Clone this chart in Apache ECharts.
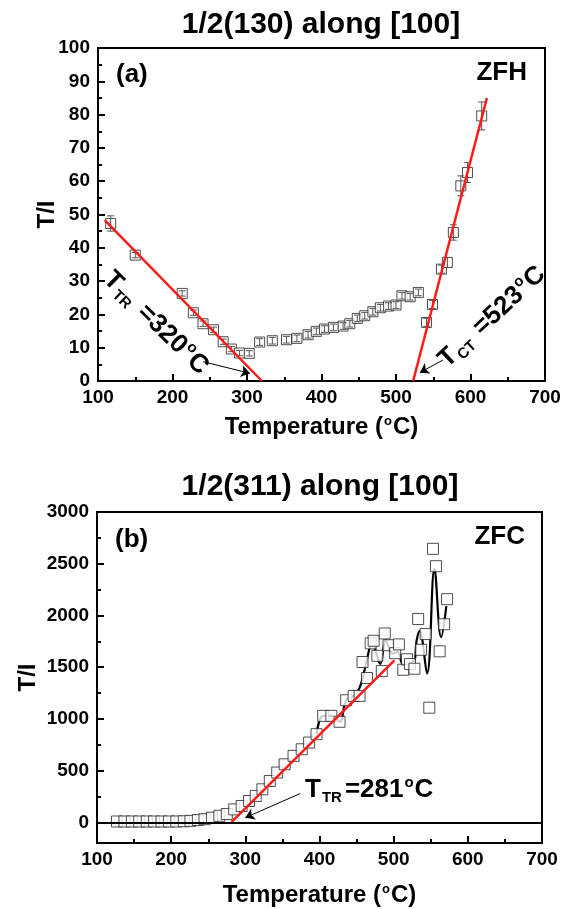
<!DOCTYPE html>
<html>
<head>
<meta charset="utf-8">
<script src="https://cdn.jsdelivr.net/npm/echarts@6/dist/echarts.min.js"></script>
<style>
  html, body { margin: 0; padding: 0; background: #fff; }
  #chart { width: 567px; height: 909px; }
</style>
</head>
<body>
<div id="chart"></div>
<script>
const FONT = '"Liberation Sans", Arial, Helvetica, sans-serif';

// ---- panel (a): 1/2(130) along [100], ZFH ----
const tempA  = [117, 150, 213, 228, 241, 255, 268, 279, 290, 303, 317, 334, 353, 367, 382, 393, 404, 416, 429, 438, 448, 458, 469, 479, 490, 500, 508, 519, 530, 541, 549, 561, 569, 577, 587, 596, 615];
const ratioA = [47.3, 37.8, 26.3, 20.5, 17.2, 15.4, 11.8, 9.6, 8.4, 8.3, 11.7, 12.1, 12.4, 12.8, 13.9, 14.9, 15.6, 16.1, 16.5, 17.2, 18.8, 19.6, 20.8, 22.0, 22.5, 22.8, 25.6, 25.3, 26.6, 17.6, 23.0, 33.6, 35.6, 44.6, 58.6, 62.6, 79.6];
const errA   = [2.3, 0.8, 0.8, 0.8, 0.8, 0.8, 0.8, 0.8, 0.8, 0.8, 1.0, 1.0, 1.0, 1.0, 1.0, 1.0, 1.0, 1.0, 1.0, 1.0, 1.0, 1.0, 1.0, 1.0, 1.0, 1.0, 1.0, 1.0, 1.0, 1.2, 1.2, 1.2, 1.5, 2.3, 3.0, 3.0, 4.2];
// linear fits crossing zero at T_TR and T_CT
const fitTrTempA  = [109, 320];
const fitTrRatioA = [48.3, 0];
const fitCtTempA  = [523, 622];
const fitCtRatioA = [0, 85];
const xTicks  = [100, 200, 300, 400, 500, 600, 700];
const yTicksA = [0, 10, 20, 30, 40, 50, 60, 70, 80, 90, 100];

// ---- panel (b): 1/2(311) along [100], ZFC ----
const tempB  = [127, 137, 147, 157, 167, 177, 187, 197, 207, 217, 226, 236, 245, 255, 265, 275, 285, 295, 305, 314, 323, 333, 343, 353, 365, 376, 386, 396, 405, 416, 427, 436, 446, 454, 458, 464, 469, 473, 478, 484, 488, 493, 502, 507, 513, 518, 522, 528, 533, 537, 543, 548, 553, 557, 562, 568, 572];
const ratioB = [8, 8, 8, 8, 8, 8, 8, 8, 8, 10, 14, 22, 30, 45, 63, 80, 125, 158, 206, 255, 319, 400, 481, 561, 642, 706, 771, 852, 1029, 1029, 972, 1180, 1222, 1222, 1550, 1395, 1730, 1755, 1610, 1462, 1826, 1712, 1635, 1720, 1475, 1576, 1530, 1485, 1966, 1668, 1820, 1108, 2644, 2476, 1653, 1915, 2157];
// smoothed guide curve through the upper part of the data
const curveTempB  = [396, 405, 416, 427, 436, 446, 454, 461, 468, 471, 476, 482, 489, 493, 498, 505, 513, 520, 527, 531, 535, 545, 555, 564, 571];
const curveRatioB = [852, 1029, 1029, 972, 1180, 1222, 1300, 1480, 1700, 1760, 1650, 1530, 1760, 1700, 1630, 1650, 1520, 1560, 1560, 1760, 1850, 1440, 2450, 1790, 2090];
const fitTrTempB  = [281, 501];
const fitTrRatioB = [0, 1565];
const yTicksB      = [0, 500, 1000, 1500, 2000, 2500, 3000];
const yMinorTicksB = [250, 750, 1250, 1750, 2250, 2750];
const yMinB = -200;

const zip = (a, b) => a.map((v, i) => [v, b[i]]);

const black = '#000';
const plain = (v) => String(v);
const tickLabel = { fontFamily: FONT, fontWeight: 'bold', fontSize: 19, color: black, formatter: plain };
const supRich = { s: { fontFamily: FONT, fontWeight: 'bold', fontSize: 13, color: black, verticalAlign: 'top', padding: [0, 1, 0, 1] } };

function xAxis(gridIndex, nameGap) {
  return {
    gridIndex, type: 'value',
    min: xTicks[0], max: xTicks[xTicks.length - 1], interval: xTicks[1] - xTicks[0],
    axisLine: { onZero: false, lineStyle: { color: black, width: 2 } },
    axisTick: { inside: true, length: 7, lineStyle: { color: black, width: 2 } },
    minorTick: { show: true, splitNumber: 2, length: 4, lineStyle: { color: black, width: 2 } },
    splitLine: { show: false }, minorSplitLine: { show: false },
    axisLabel: Object.assign({ margin: 7 }, tickLabel),
    name: 'Temperature ({s|o}C)', nameLocation: 'middle', nameGap, nameMoveOverlap: false,
    nameTextStyle: { fontFamily: FONT, fontWeight: 'bold', fontSize: 24, color: black, rich: supRich }
  };
}

const yNameStyle = { fontFamily: FONT, fontWeight: 'bold', fontSize: 24, color: black };

const option = {
  animation: false,
  backgroundColor: '#fff',
  grid: [
    { left: 98, top: 48, width: 447, height: 333, show: true, borderColor: black, borderWidth: 2, backgroundColor: 'transparent' },
    { left: 97, top: 512, width: 445, height: 331, show: true, borderColor: black, borderWidth: 2, backgroundColor: 'transparent' }
  ],
  xAxis: [xAxis(0, 34), xAxis(1, 40)],
  yAxis: [
    {
      gridIndex: 0, type: 'value', position: 'left',
      min: yTicksA[0], max: yTicksA[yTicksA.length - 1], interval: yTicksA[1] - yTicksA[0],
      axisLine: { show: true, lineStyle: { color: black, width: 2 } },
      axisTick: { inside: true, length: 7, lineStyle: { color: black, width: 2 } },
      minorTick: { show: true, splitNumber: 2, length: 4, lineStyle: { color: black, width: 2 } },
      splitLine: { show: false }, minorSplitLine: { show: false },
      axisLabel: Object.assign({ margin: 8 }, tickLabel),
      name: 'T/I', nameLocation: 'middle', nameRotate: 90, nameGap: 39, nameMoveOverlap: false, nameTextStyle: yNameStyle
    },
    {
      gridIndex: 1, type: 'value', position: 'left',
      min: yMinB, max: yTicksB[yTicksB.length - 1],
      axisLine: { show: true, lineStyle: { color: black, width: 2 } },
      axisTick: { inside: true, length: 7, customValues: yTicksB, lineStyle: { color: black, width: 2 } },
      splitLine: { show: false },
      axisLabel: Object.assign({ margin: 8, customValues: yTicksB }, tickLabel),
      name: 'T/I', nameLocation: 'middle', nameRotate: 90, nameGap: 57, nameMoveOverlap: false, nameTextStyle: yNameStyle
    },
    {
      // minor ticks of panel (b)
      gridIndex: 1, type: 'value', position: 'left',
      min: yMinB, max: yTicksB[yTicksB.length - 1],
      axisLine: { show: false },
      axisTick: { inside: true, length: 4, customValues: yMinorTicksB, lineStyle: { color: black, width: 2 } },
      axisLabel: { show: false },
      splitLine: { show: false }
    }
  ],
  series: [
    // panel (a)
    {
      type: 'scatter', xAxisIndex: 0, yAxisIndex: 0, z: 2,
      data: zip(tempA, ratioA),
      symbol: 'rect', symbolSize: 10,
      itemStyle: { color: '#fff', borderColor: '#222', borderWidth: 1 }
    },
    {
      type: 'custom', xAxisIndex: 0, yAxisIndex: 0, z: 3,
      data: tempA.map((t, i) => [t, ratioA[i], errA[i]]),
      encode: { x: 0, y: 1 },
      renderItem(params, api) {
        const x = api.value(0), y = api.value(1), e = api.value(2);
        const hi = api.coord([x, y + e]);
        const lo = api.coord([x, y - e]);
        const w = 3.5;
        const st = { stroke: '#555', lineWidth: 1 };
        return {
          type: 'group',
          children: [
            { type: 'line', shape: { x1: hi[0], y1: hi[1], x2: lo[0], y2: lo[1] }, style: st },
            { type: 'line', shape: { x1: hi[0] - w, y1: hi[1], x2: hi[0] + w, y2: hi[1] }, style: st },
            { type: 'line', shape: { x1: lo[0] - w, y1: lo[1], x2: lo[0] + w, y2: lo[1] }, style: st }
          ]
        };
      }
    },
    {
      type: 'line', xAxisIndex: 0, yAxisIndex: 0, z: 4,
      data: zip(fitTrTempA, fitTrRatioA), symbol: 'none',
      lineStyle: { color: '#ff1a1a', width: 2.5 },
      markLine: {
        silent: true, symbol: ['none', 'arrow'], symbolSize: 9,
        label: { show: false },
        itemStyle: { color: black },
        lineStyle: { color: black, width: 1, type: 'solid' },
        data: [
          [{ coord: [241, 5.8] }, { coord: [304, 2.3] }],
          [{ coord: [563, 6.3] }, { coord: [532, 2.5] }]
        ]
      }
    },
    {
      type: 'line', xAxisIndex: 0, yAxisIndex: 0, z: 4,
      data: zip(fitCtTempA, fitCtRatioA), symbol: 'none',
      lineStyle: { color: '#ff1a1a', width: 2.5 }
    },
    // panel (b)
    {
      type: 'line', xAxisIndex: 1, yAxisIndex: 1, z: 1,
      data: zip(curveTempB, curveRatioB), symbol: 'none', smooth: 0.4,
      lineStyle: { color: black, width: 2.2 },
      markLine: {
        silent: true, symbol: ['none', 'none'],
        label: { show: false },
        lineStyle: { color: black, width: 2, type: 'solid' },
        data: [{ yAxis: 0 }]
      }
    },
    {
      type: 'scatter', xAxisIndex: 1, yAxisIndex: 1, z: 2,
      data: zip(tempB, ratioB),
      symbol: 'rect', symbolSize: 11,
      itemStyle: { color: '#fff', borderColor: '#222', borderWidth: 1 }
    },
    {
      type: 'line', xAxisIndex: 1, yAxisIndex: 1, z: 4,
      data: zip(fitTrTempB, fitTrRatioB), symbol: 'none',
      lineStyle: { color: '#ff1a1a', width: 2.5 },
      markLine: {
        silent: true, symbol: ['none', 'arrow'], symbolSize: 9,
        label: { show: false },
        itemStyle: { color: black },
        lineStyle: { color: black, width: 1, type: 'solid' },
        data: [[{ coord: [374, 278] }, { coord: [300, 45] }]]
      }
    }
  ],
  graphic: [
    titleText('1/2(130) along [100]', 321, 25),
    titleText('1/2(311) along [100]', 320, 487),
    plainText('(a)', 116, 75, 'left'),
    plainText('ZFH', 527, 73, 'right'),
    plainText('(b)', 115, 540, 'left'),
    plainText('ZFC', 525, 537, 'right'),
    richText('{b|T}{sub|TR}{b| =320}{sup|o}{b|C}', 156, 323, -0.775, 'center'),
    richText('{b|T}{sub|CT}{b| =523}{sup|o}{b|C}', 492, 317, 0.75, 'center'),
    richText('{b|T}{sub|TR}{b|=281}{sup|o}{b|C}', 305, 790, 0, 'left')
  ]
};

function titleText(text, x, y) {
  return {
    type: 'text', x, y, z: 10,
    style: { text, fill: black, fontFamily: FONT, fontWeight: 'bold', fontSize: 30, align: 'center', verticalAlign: 'middle' }
  };
}
function plainText(text, x, y, align) {
  return {
    type: 'text', x, y, z: 10,
    style: { text, fill: black, fontFamily: FONT, fontWeight: 'bold', fontSize: 26, align, verticalAlign: 'middle' }
  };
}
function richText(text, x, y, rotation, align) {
  return {
    type: 'text', x, y, rotation, z: 10,
    style: {
      text, fill: black, align, verticalAlign: 'middle',
      fontFamily: FONT, fontWeight: 'bold', fontSize: 26,
      rich: {
        b:   { fontFamily: FONT, fontWeight: 'bold', fontSize: 26, fill: black, lineHeight: 30 },
        sub: { fontFamily: FONT, fontWeight: 'bold', fontSize: 15, fill: black, lineHeight: 14, verticalAlign: 'bottom', padding: [0, 3, 0, 1] },
        sup: { fontFamily: FONT, fontWeight: 'bold', fontSize: 15, fill: black, lineHeight: 14, verticalAlign: 'top', padding: [0, 1, 0, 1] }
      }
    }
  };
}

const chart = echarts.init(document.getElementById('chart'), null, { renderer: 'canvas' });
chart.setOption(option);
</script>
</body>
</html>
